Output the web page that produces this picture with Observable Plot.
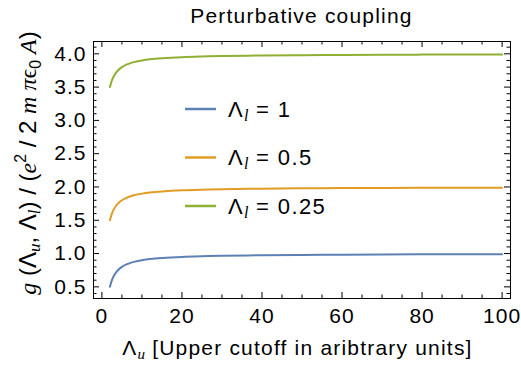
<!DOCTYPE html>
<html>
<head>
<meta charset="utf-8">
<script src="https://cdn.jsdelivr.net/npm/d3@7"></script>
<script src="https://cdn.jsdelivr.net/npm/@observablehq/plot@0.6"></script>
<style>
  body { margin: 0; background: #fff; }
  #chart svg { display: block; }
</style>
</head>
<body>
<div id="chart"></div>
<script>
// Upper cutoff values at which the coupling is sampled
const lambdaU = [2, 2.5, 3, 3.5, 4, 5, 6, 7, 8, 10, 12, 15, 20, 25, 30, 40, 50, 60, 70, 80, 90, 100];

// Coupling g(Λu, Λl) in units of e² / (2 m π ϵ0 A), one list per lower cutoff
const gLower1   = [0.50, 0.60, 0.667, 0.714, 0.75, 0.80, 0.833, 0.857, 0.875, 0.90, 0.917, 0.933, 0.95, 0.96, 0.967, 0.975, 0.98, 0.983, 0.986, 0.988, 0.989, 0.99];
const gLower05  = [1.50, 1.60, 1.667, 1.714, 1.75, 1.80, 1.833, 1.857, 1.875, 1.90, 1.917, 1.933, 1.95, 1.96, 1.967, 1.975, 1.98, 1.983, 1.986, 1.988, 1.989, 1.99];
const gLower025 = [3.50, 3.60, 3.667, 3.714, 3.75, 3.80, 3.833, 3.857, 3.875, 3.90, 3.917, 3.933, 3.95, 3.96, 3.967, 3.975, 3.98, 3.983, 3.986, 3.988, 3.989, 3.99];

const seriesNames  = ["1", "0.5", "0.25"];
const seriesValues = [gLower1, gLower05, gLower025];
const seriesColors = ["#5E81B5", "#E19C24", "#8FB032"];

// Axis ticks
const xTicks = [0, 20, 40, 60, 80, 100];
const yTicks = [0.5, 1.0, 1.5, 2.0, 2.5, 3.0, 3.5, 4.0];
const xMinor = d3.range(0, 101, 5).filter(v => !xTicks.includes(v));
const yMinor = d3.range(4, 42, 1).map(v => v / 10).filter(v => !yTicks.some(t => Math.abs(t - v) < 1e-9));

const rows = seriesNames.flatMap((name, i) =>
  lambdaU.map((u, j) => ({ lu: u, g: seriesValues[i][j], series: name }))
);

const W = 521, H = 375;
const mL = 93, mR = 11, mT = 41, mB = 77;
const frameW = W - mL - mR, frameH = H - mT - mB;
const majorLen = 6, minorLen = 3.5;
const sans = "'Liberation Sans', Arial, sans-serif";
const serif = "'Liberation Serif', 'Times New Roman', serif";

const chart = Plot.plot({
  width: W,
  height: H,
  marginLeft: mL, marginRight: mR, marginTop: mT, marginBottom: mB,
  style: { fontFamily: sans, fontSize: "21px", letterSpacing: "1px", color: "#000", background: "#fff", overflow: "visible" },
  x: { domain: [-2.1, 102.1] },
  y: { domain: [0.325, 4.185] },
  color: { domain: seriesNames, range: seriesColors },
  marks: [
    // inward frame ticks on all four sides
    Plot.tickX(xTicks, { x: d => d, insetTop: frameH - majorLen, stroke: "#000" }),
    Plot.tickX(xMinor, { x: d => d, insetTop: frameH - minorLen, stroke: "#000" }),
    Plot.tickX(xTicks, { x: d => d, insetBottom: frameH - majorLen, stroke: "#000" }),
    Plot.tickX(xMinor, { x: d => d, insetBottom: frameH - minorLen, stroke: "#000" }),
    Plot.tickY(yTicks, { y: d => d, insetRight: frameW - majorLen, stroke: "#000" }),
    Plot.tickY(yMinor, { y: d => d, insetRight: frameW - minorLen, stroke: "#000" }),
    Plot.tickY(yTicks, { y: d => d, insetLeft: frameW - majorLen, stroke: "#000" }),
    Plot.tickY(yMinor, { y: d => d, insetLeft: frameW - minorLen, stroke: "#000" }),
    Plot.axisX(xTicks, { tickSize: 0, tickPadding: 10, tickFormat: d => String(d), label: null, fill: "#000" }),
    Plot.axisY(yTicks, { tickSize: 0, tickPadding: 7, tickFormat: d => d.toFixed(1), label: null, fill: "#000" }),
    Plot.line(rows, { x: "lu", y: "g", z: "series", stroke: "series", strokeWidth: 2, curve: "catmull-rom" }),
    Plot.frame({ stroke: "#000", strokeWidth: 1 })
  ]
});

document.getElementById("chart").appendChild(chart);
const svg = d3.select(chart);

// Title
svg.append("text")
  .attr("x", mL + frameW / 2).attr("y", 23)
  .attr("text-anchor", "middle")
  .style("font-family", sans).style("font-size", "21px").style("letter-spacing", "1.2px")
  .attr("fill", "#000")
  .text("Perturbative coupling");

// helper for rich text made of styled pieces
function rich(sel, parts, ls) {
  parts.forEach(p => {
    const t = sel.append("tspan").text(p.t)
      .style("font-family", p.serif ? serif : sans)
      .style("font-style", p.it ? "italic" : "normal")
      .style("letter-spacing", p.serif ? "0px" : (p.ls != null ? p.ls : (ls || "1px")));
    if (p.size) t.style("font-size", p.size + "px");
    if (p.dy) t.attr("dy", p.dy);
  });
}

// X axis label
const xl = svg.append("text")
  .attr("x", mL + frameW / 2 - 4).attr("y", 355)
  .attr("text-anchor", "middle")
  .style("font-size", "21px").attr("fill", "#000");
rich(xl, [
  { t: "Λ" },
  { t: "u", serif: true, it: true, size: 15, dy: 4 },
  { t: " [Upper cutoff in aribtrary units]", dy: -4 }
], "1.2px");

// Y axis label (rotated)
const yl = svg.append("text")
  .attr("transform", "translate(36,163) rotate(-90)")
  .attr("text-anchor", "middle")
  .style("font-size", "24px").attr("fill", "#000");
rich(yl, [
  { t: "g", serif: true, it: true },
  { t: " (Λ", ls: "0px" },
  { t: "u", serif: true, it: true, size: 17, dy: 4 },
  { t: ", Λ", dy: -4, ls: "0px" },
  { t: "l", serif: true, it: true, size: 17, dy: 4 },
  { t: ") / (", dy: -4, ls: "0px" },
  { t: "e", serif: true, it: true },
  { t: "2", size: 16, dy: -10, ls: "0px" },
  { t: " / 2 ", dy: 10, ls: "0px" },
  { t: "m", serif: true, it: true },
  { t: " π", serif: true, it: true },
  { t: "ϵ", serif: true },
  { t: "0", size: 16, dy: 5, ls: "0px" },
  { t: " A", serif: true, it: true, dy: -5 },
  { t: ")", ls: "0px" }
]);

// Legend
const legendY = [109, 157.5, 206];
seriesNames.forEach((name, i) => {
  svg.append("line")
    .attr("x1", 185).attr("x2", 216)
    .attr("y1", legendY[i]).attr("y2", legendY[i])
    .attr("stroke", seriesColors[i]).attr("stroke-width", 2.5);
  const lt = svg.append("text")
    .attr("x", 228).attr("y", legendY[i] + 7.5)
    .attr("text-anchor", "start")
    .style("font-size", "22px").attr("fill", "#000");
  rich(lt, [
    { t: "Λ" },
    { t: "l", serif: true, it: true, size: 16, dy: 4 },
    { t: " = " + name, dy: -4 }
  ], "1.4px");
});
</script>
</body>
</html>
